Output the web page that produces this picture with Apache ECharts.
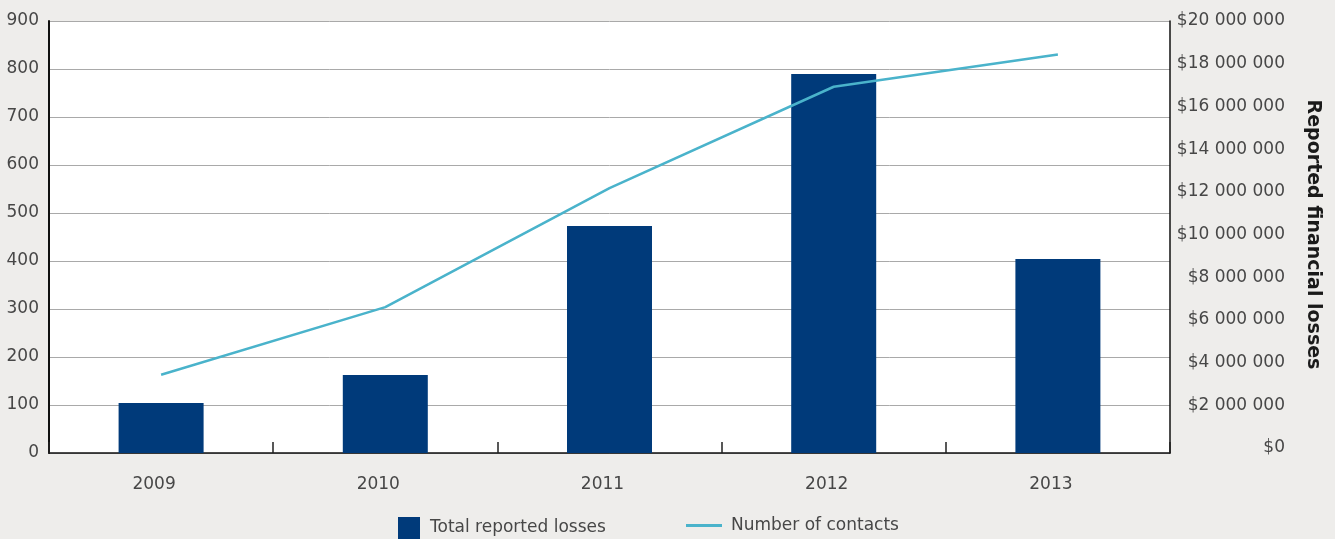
<!DOCTYPE html>
<html>
<head>
<meta charset="utf-8">
<script src="https://cdn.jsdelivr.net/npm/echarts@6/dist/echarts.min.js"></script>
<style>
html,body{margin:0;padding:0;background:#eeedeb;}
#chart{width:1335px;height:539px;}
</style>
</head>
<body>
<div id="chart"></div>
<script>
const years = ['2009', '2010', '2011', '2012', '2013'];
const totalLosses = [2310000, 3610000, 10510000, 17550000, 8980000];
const contacts = [163, 304, 552, 763, 830];
const leftTicks = {min: 0, max: 900, interval: 100};
const rightTicks = {min: 0, max: 20000000, interval: 2000000};

const FONT = '"DejaVu Sans"';
const TXT = '#474747';
function money(v) {
  return '$' + String(v).replace(/\B(?=(\d{3})+(?!\d))/g, ' ');
}

const chart = echarts.init(document.getElementById('chart'), null, {renderer: 'canvas'});
chart.setOption({
  backgroundColor: '#eeedeb',
  animation: false,
  textStyle: {fontFamily: FONT},
  grid: [
    {left: 49, right: 165, top: 21, bottom: 86, show: true, backgroundColor: '#ffffff', borderWidth: 0},
    {left: 49, right: 165, top: 21, bottom: 91, show: false}
  ],
  legend: [
    {
      data: ['Total reported losses'],
      left: 393, top: 512,
      itemWidth: 22, itemHeight: 22,
      icon: 'rect',
      textStyle: {fontFamily: FONT, fontSize: 17, color: TXT, padding: [4, 0, 0, 5]}
    },
    {
      data: ['Number of contacts'],
      left: 681, top: 512,
      itemWidth: 36, itemHeight: 22,
      icon: 'path://M0,0H36V3H0Z',
      textStyle: {fontFamily: FONT, fontSize: 17, color: TXT, padding: [5, 0, 0, 4]}
    }
  ],
  xAxis: [
    {
      type: 'category', gridIndex: 0, data: years, boundaryGap: true,
      axisLine: {show: true, lineStyle: {color: '#111', width: 1.5}},
      axisTick: {show: true, inside: true, length: 11, lineStyle: {color: '#222', width: 1.5}},
      axisLabel: {fontFamily: FONT, fontSize: 17, color: TXT, margin: 23, padding: [0, 14, 0, 0]}
    },
    {type: 'category', gridIndex: 1, data: years, show: false}
  ],
  yAxis: [
    {
      type: 'value', gridIndex: 0, position: 'left',
      min: leftTicks.min, max: leftTicks.max, interval: leftTicks.interval,
      axisLine: {show: true, lineStyle: {color: '#111', width: 2}},
      axisTick: {show: false},
      splitLine: {show: true, lineStyle: {color: '#a9a9a9', width: 1}},
      axisLabel: {fontFamily: FONT, fontSize: 17, color: TXT, margin: 10}
    },
    {
      type: 'value', gridIndex: 0, position: 'right',
      min: rightTicks.min, max: rightTicks.max, interval: rightTicks.interval,
      axisLine: {show: true, lineStyle: {color: '#111', width: 1.5}},
      axisTick: {show: false},
      splitLine: {show: false},
      axisLabel: {show: false}
    },
    {
      type: 'value', gridIndex: 1, position: 'right',
      min: rightTicks.min, max: rightTicks.max, interval: rightTicks.interval,
      axisLine: {show: false},
      axisTick: {show: false},
      splitLine: {show: false},
      axisLabel: {fontFamily: FONT, fontSize: 17, color: TXT, margin: 115, align: 'right', formatter: money},
      name: 'Reported financial losses',
      nameLocation: 'middle',
      nameRotate: -90,
      nameGap: 133,
      nameTextStyle: {fontFamily: FONT, fontSize: 19, fontWeight: 'bold', color: '#1a1a1a'}
    }
  ],
  series: [
    {
      name: 'Total reported losses', type: 'bar',
      xAxisIndex: 0, yAxisIndex: 1,
      data: totalLosses, barWidth: 85,
      itemStyle: {color: '#003a7a'}
    },
    {
      name: 'Number of contacts', type: 'line',
      xAxisIndex: 0, yAxisIndex: 0,
      data: contacts, symbol: 'none', z: 5,
      lineStyle: {color: '#4ab3cb', width: 2.5},
      itemStyle: {color: '#4ab3cb'}
    }
  ]
});
</script>
</body>
</html>
